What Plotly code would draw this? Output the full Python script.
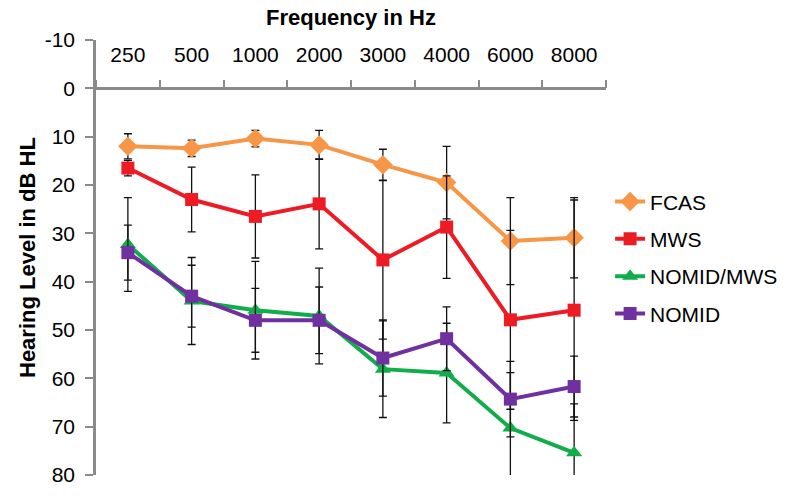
import plotly.graph_objects as go

freqs = ["250", "500", "1000", "2000", "3000", "4000", "6000", "8000"]

fcas = [12.0, 12.4, 10.4, 11.7, 15.8, 19.5, 31.6, 30.9]
fcas_sd = [2.6, 1.7, 1.7, 3.0, 3.2, 7.5, 9.0, 8.3]

mws = [16.5, 23.0, 26.5, 23.9, 35.5, 28.7, 47.9, 45.9]
mws_sd = [1.6, 6.7, 8.6, 9.3, 16.4, 10.6, 18.5, 22.8]

nomid_mws = [32.3, 44.0, 45.9, 47.1, 58.1, 58.9, 70.3, 75.4]
nomid_mws_sd = [9.7, 9.0, 10.1, 9.9, 10.0, 10.3, 11.5, 10.1]

nomid = [34.0, 43.0, 48.0, 48.0, 55.8, 51.8, 64.3, 61.7]
nomid_sd = [5.7, 6.4, 6.6, 6.9, 7.9, 6.6, 7.8, 6.3]

y_ticks = [-10, 0, 10, 20, 30, 40, 50, 60, 70, 80]
y_tick_labels = ["-10", "0", "10", "20", "30", "40", "50", "60", "70", "80"]

series = [
    ("FCAS", fcas, fcas_sd, "#F79646", "diamond", 15),
    ("MWS", mws, mws_sd, "#ED1C24", "square", 13),
    ("NOMID/MWS", nomid_mws, nomid_mws_sd, "#12AD4B", "triangle-up", 14),
    ("NOMID", nomid, nomid_sd, "#7030A0", "square", 13),
]

FONT = "Liberation Sans, Arial, Helvetica, sans-serif"

fig = go.Figure()
for name, vals, sd, color, sym, size in series:
    fig.add_trace(go.Scatter(
        x=freqs, y=vals, name=name, mode="lines+markers",
        legendgroup=name,
        line=dict(color=color, width=4),
        marker=dict(color=color, symbol=sym, size=size),
        error_y=dict(type="data", array=sd, visible=True, color="#111111",
                     thickness=1.3, width=4),
        cliponaxis=False,
    ))

fig.update_layout(
    width=788, height=502,
    margin=dict(l=96, r=182, t=40, b=27, autoexpand=False),
    plot_bgcolor="white", paper_bgcolor="white",
    font=dict(family=FONT, size=21, color="black"),
    showlegend=True,
    legend=dict(x=1.008, y=0.675, xanchor="left", yanchor="top",
                font=dict(size=21), traceorder="grouped", tracegroupgap=7,
                bgcolor="rgba(0,0,0,0)"),
    xaxis=dict(
        type="category", side="top", anchor="free", position=8/9,
        range=[-0.5, 7.5], tickson="boundaries", automargin=False,
        ticks="outside", ticklen=8, tickwidth=2, tickcolor="#8a8a8a",
        showline=True, linecolor="#8a8a8a", linewidth=2.5,
        showgrid=False, zeroline=False,
        tickfont=dict(size=21), ticklabelstandoff=17,
    ),
    yaxis=dict(
        range=[80, -10], tickvals=y_ticks, ticktext=y_tick_labels,
        automargin=False,
        ticks="outside", ticklen=8, tickwidth=2, tickcolor="#8a8a8a",
        showline=True, linecolor="#8a8a8a", linewidth=2.5,
        showgrid=False, zeroline=False,
        tickfont=dict(size=21), ticklabelstandoff=6,
    ),
    annotations=[
        dict(text="<b>Frequency in Hz</b>", xref="paper", yref="paper",
             x=0.5, y=1 + (40 - 18) / 435, xanchor="center", yanchor="middle",
             showarrow=False, font=dict(size=22)),
        dict(text="<b>Hearing Level in dB HL</b>", xref="paper", yref="paper",
             x=(27 - 96) / 510, y=(475 - 258) / 435, xanchor="center",
             yanchor="middle", textangle=-90, showarrow=False,
             font=dict(size=22)),
    ],
)

# remove the page's default 8px body margin so the figure fills the window
fig.write_html("out.html",
               config={"displayModeBar": False},
               post_script="document.body.style.margin='0';"
                           "document.body.style.overflow='hidden';")
